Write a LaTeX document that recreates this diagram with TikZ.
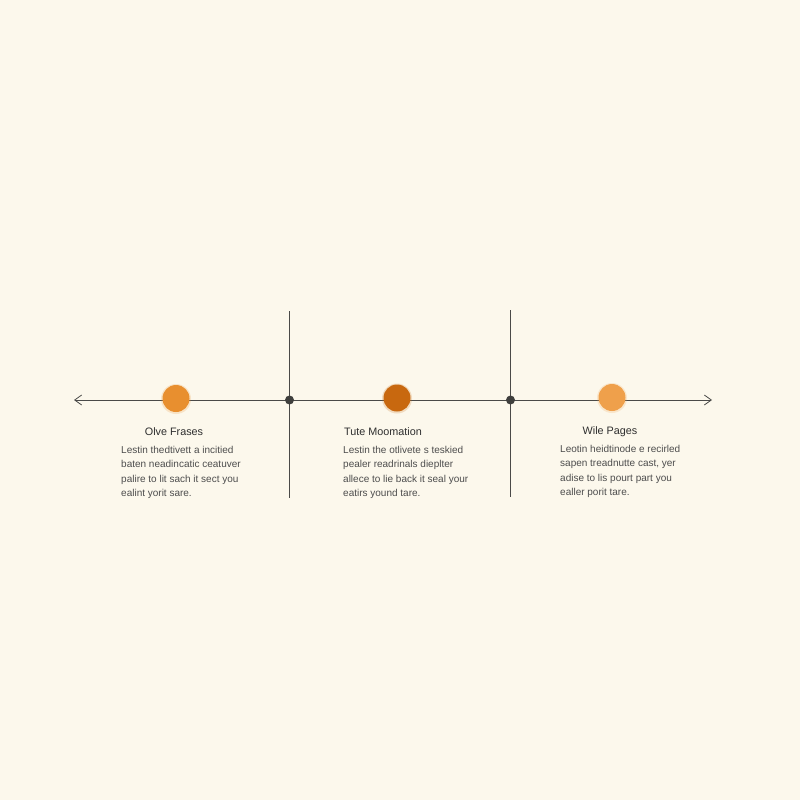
\documentclass[tikz,border=0pt]{standalone}
\usepackage{fontspec}
\setmainfont{Liberation Sans}
\usetikzlibrary{arrows.meta}

\definecolor{paper}{HTML}{FCF8EC}
\definecolor{axis}{HTML}{4A4A48}
\definecolor{dotone}{HTML}{E88F2F}
\definecolor{dottwo}{HTML}{C8680F}
\definecolor{dotthree}{HTML}{EFA04B}
\definecolor{ink}{HTML}{2E2E2E}

\tikzset{
    axisline/.style={axis, line width=0.8pt},
    stepdot/.style={circle, inner sep=0pt, minimum size=27pt},
    halo/.style={circle, inner sep=0pt, minimum size=30pt, opacity=0.2},
    title/.style={anchor=base, font=\fontsize{10.8}{13}\selectfont, text=ink, inner sep=0pt},
    body/.style={anchor=north west, align=left, font=\fontsize{10}{14.4}\selectfont, text=ink!85, inner sep=0pt}
}

\begin{document}
\begin{tikzpicture}[x=1pt, y=-1pt]
        % Paper
        \fill[paper] (0,0) rectangle (800,800);
        \useasboundingbox (0,0) rectangle (800,800);

        % Main line
        \coordinate (left) at (74,400);
        \coordinate (right) at (712,400);
        \draw[axisline, {Straight Barb[length=7pt,width=10pt]}-{Straight Barb[length=7pt,width=10pt]}] (left) -- (right);

        % Dividers
        \coordinate (topA) at (289.5,311);
        \coordinate (botA) at (289.5,498);
        \coordinate (topB) at (510.5,310);
        \coordinate (botB) at (510.5,497);
        \draw[axisline] (topA) -- (botA);
        \draw[axisline] (topB) -- (botB);
        \fill[axis!85!black] (289.5,400) circle (4.5);
        \fill[axis!85!black] (510.5,400) circle (4.5);

        % Step circles
        \node[halo, fill=dotone] (haloone) at (176,399) {};
        \node[halo, fill=dottwo] (halotwo) at (397,398.5) {};
        \node[halo, fill=dotthree] (halothree) at (612,398) {};
        \node[stepdot, fill=dotone] (stepone) at (176,398.5) {};
        \node[stepdot, fill=dottwo] (steptwo) at (397,398) {};
        \node[stepdot, fill=dotthree] (stepthree) at (612,397.5) {};

        % Labels
        \node[title] (titleone) at (174,435) {Olve Frases};
        \node[title] (titletwo) at (383,435) {Tute Moomation};
        \node[title] (titlethree) at (610,434) {Wile Pages};

        \node[body] (textone) at (121,446) {Lestin thedtivett a incitied\\
            baten  neadincatic ceatuver\\
            palire to lit sach it sect you\\
            ealint yorit sare.};
        \node[body] (texttwo) at (343,446) {Lestin the otlivete s teskied\\
            pealer readrinals dieplter\\
            allece to lie back it seal your\\
            eatirs yound tare.};
        \node[body] (textthree) at (560,445) {Leotin heidtinode e recirled\\
            sapen treadnutte cast, yer\\
            adise to lis pourt part you\\
            ealler porit tare.};

    \end{tikzpicture}
\end{document}
